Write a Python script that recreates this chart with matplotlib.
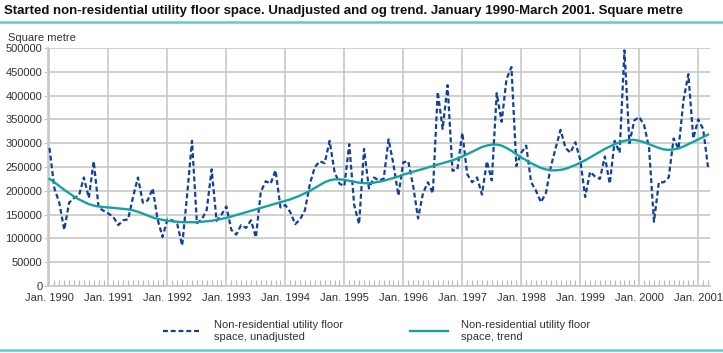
import numpy as np
import matplotlib
matplotlib.use("Agg")
import matplotlib.pyplot as plt
from matplotlib.ticker import FuncFormatter, FixedLocator
from matplotlib.lines import Line2D

plt.rcParams['font.family'] = ['Liberation Sans', 'DejaVu Sans']

years = list(range(1990, 2002))
tick_labels = [f"Jan. {y}" for y in years]

# Monthly values Jan 1990 - Mar 2001 (square metre)
unadjusted = [
    290000, 205000, 175000, 118000, 175000, 185000, 190000, 228000, 185000, 262000, 165000, 158000,  # 1990
    152000, 145000, 128000, 138000, 140000, 187000, 228000, 175000, 180000, 205000, 140000, 103000,  # 1991
    140000, 138000, 130000, 85000, 190000, 305000, 132000, 140000, 160000, 245000, 137000, 150000,   # 1992
    167000, 118000, 108000, 128000, 122000, 138000, 102000, 198000, 220000, 215000, 243000, 165000,  # 1993
    170000, 155000, 130000, 140000, 160000, 215000, 250000, 262000, 258000, 305000, 240000, 215000,  # 1994
    210000, 298000, 170000, 130000, 288000, 205000, 228000, 222000, 225000, 308000, 255000, 190000,  # 1995
    260000, 262000, 210000, 142000, 195000, 218000, 195000, 408000, 330000, 422000, 242000, 245000,  # 1996
    322000, 235000, 218000, 228000, 192000, 262000, 222000, 405000, 345000, 435000, 460000, 252000,  # 1997
    280000, 295000, 218000, 200000, 176000, 195000, 250000, 290000, 328000, 290000, 280000, 302000,  # 1998
    265000, 187000, 240000, 230000, 225000, 272000, 215000, 305000, 280000, 495000, 300000, 348000,  # 1999
    355000, 338000, 290000, 135000, 218000, 218000, 228000, 310000, 288000, 390000, 445000, 310000,  # 2000
    350000, 330000, 250000,                                                                          # 2001
]

trend = [
    225000, 218000, 210000, 202000, 195000, 188000, 182000, 177000, 172000, 169000, 167000, 166000,
    165000, 164000, 163000, 162000, 161000, 159000, 156000, 152000, 148000, 144000, 141000, 139000,
    137000, 136000, 135000, 134000, 134000, 134000, 134000, 135000, 136000, 137000, 139000, 141000,
    143000, 146000, 149000, 152000, 155000, 158000, 161000, 164000, 167000, 170000, 173000, 176000,
    179000, 182000, 186000, 190000, 195000, 200000, 206000, 212000, 218000, 222000, 224000, 224000,
    223000, 221000, 219000, 217000, 216000, 216000, 217000, 219000, 221000, 224000, 227000, 230000,
    234000, 237000, 240000, 243000, 246000, 249000, 252000, 255000, 258000, 261000, 264000, 268000,
    272000, 277000, 282000, 287000, 292000, 295000, 297000, 297000, 295000, 290000, 284000, 277000,
    270000, 264000, 258000, 253000, 248000, 245000, 243000, 243000, 244000, 246000, 250000, 254000,
    259000, 264000, 270000, 276000, 282000, 288000, 293000, 298000, 302000, 305000, 307000, 307000,
    305000, 302000, 298000, 294000, 290000, 287000, 286000, 287000, 289000, 293000, 298000, 303000,
    308000, 313000, 318000,
]

series_names = ["Non-residential utility floor\nspace, unadjusted",
                "Non-residential utility floor\nspace, trend"]

title = "Started non-residential utility floor space. Unadjusted and og trend. January 1990-March 2001. Square metre"

blue = '#123f98'
teal = '#17a2a2'
grid_c = '#c8c8c8'
txt_c = '#333333'

fig = plt.figure(figsize=(7.23, 3.53), dpi=100)
ax = fig.add_axes([48/723, 1-286/353, (710-48)/723, (286-48)/353])

months = np.arange(len(unadjusted))
ax.plot(months, unadjusted, color=blue, lw=1.6, linestyle=(0, (2.2, 1.3)), zorder=3)
ax.plot(np.arange(len(trend)), trend, color=teal, lw=1.7, zorder=4)

ax.set_xlim(-0.3, len(unadjusted) - 0.6)
ax.set_ylim(0, 500000)

ax.set_xticks(np.arange(0, len(years) * 12, 12))
ax.set_xticklabels(tick_labels)
ax.xaxis.set_minor_locator(FixedLocator(np.arange(len(unadjusted))))
ax.set_yticks(np.arange(0, 500001, 50000))
ax.yaxis.set_major_formatter(FuncFormatter(lambda v, p: f"{int(v)}"))

ax.grid(True, which='major', color=grid_c, lw=1.2, zorder=0)
ax.set_axisbelow(True)
for s in ['top', 'right']:
    ax.spines[s].set_visible(False)
for s in ['left', 'bottom']:
    ax.spines[s].set_color(grid_c)
    ax.spines[s].set_linewidth(1.2)

ax.tick_params(axis='x', which='major', length=0, labelsize=8, colors=txt_c, pad=5)
ax.tick_params(axis='x', which='minor', direction='in', length=4, width=0.8, color='#b8b8b8')
ax.tick_params(axis='y', which='major', length=3, color=grid_c, labelsize=8, colors=txt_c, pad=1)

fig.text(4/723, 1-11/353, title, fontsize=9.5, fontweight='bold', color='#111111', va='center', ha='left')
fig.add_artist(Line2D([0, 1], [1-22/353, 1-22/353], color='#62c9c9', lw=1.8, transform=fig.transFigure))
fig.add_artist(Line2D([0, 1], [1-350/353, 1-350/353], color='#62c9c9', lw=1.8, transform=fig.transFigure))
fig.text(8/723, 1-38/353, "Square metre", fontsize=8, color=txt_c, va='center', ha='left')

handles = [Line2D([], [], color=blue, lw=1.6, linestyle=(0, (2.2, 1.3))),
           Line2D([], [], color=teal, lw=1.7)]
fig.legend(handles, series_names, loc='center', bbox_to_anchor=(0.521, 1-331/353), ncol=2,
           frameon=False, fontsize=8, handlelength=3.4, handletextpad=1.2, columnspacing=6.0,
           labelcolor=txt_c)

fig.savefig("out.png", dpi=100)
